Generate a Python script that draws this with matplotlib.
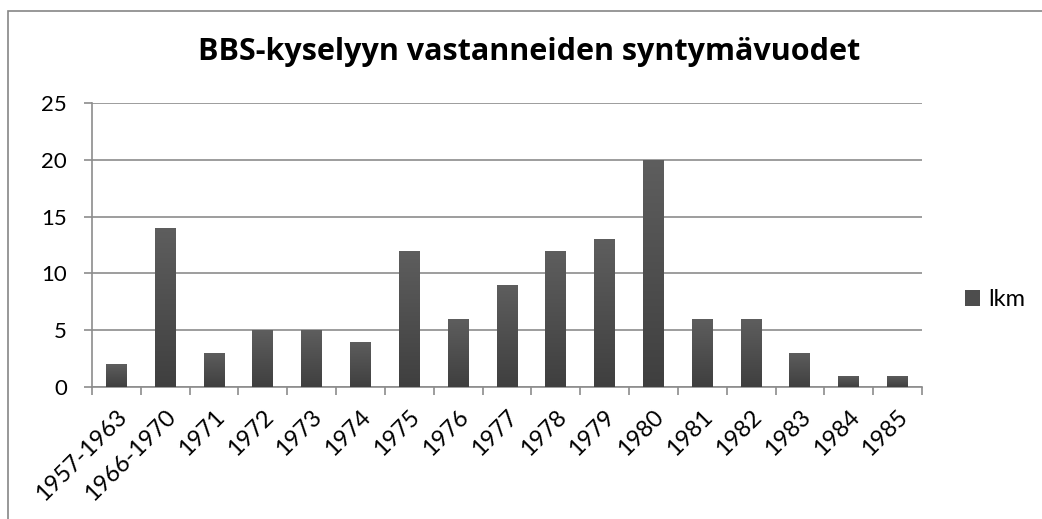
import numpy as np
import matplotlib
matplotlib.use('Agg')
from matplotlib import pyplot as plt
from matplotlib.patches import Rectangle
from matplotlib.transforms import ScaledTranslation

categories = ['1957-1963', '1966-1970', '1971', '1972', '1973', '1974', '1975', '1976',
              '1977', '1978', '1979', '1980', '1981', '1982', '1983', '1984', '1985']
lkm = [2, 14, 3, 5, 5, 4, 12, 6, 9, 12, 13, 20, 6, 6, 3, 1, 1]
yticks = [0, 5, 10, 15, 20, 25]

plt.rcParams['font.family'] = ['Lato', 'DejaVu Sans']

W, H = 1042, 519
fig = plt.figure(figsize=(W / 100, H / 100), dpi=100)
# kehys (oikea ja ala reuna jaavat kuvan ulkopuolelle)
fig.patches.append(Rectangle((7.5 / W, -0.1), 1.2, 1.1 - 10.5 / H, transform=fig.transFigure,
                             fill=False, edgecolor='#868686', linewidth=1.2))

ax = fig.add_axes([92 / W, 1 - 387 / H, (922 - 92) / W, (387 - 103) / H])
x = np.arange(len(categories))
bars = ax.bar(x, lkm, width=0.43, color='#4d4d4d', zorder=3, label='lkm')

# liukuvari pylvaisiin
grad = np.linspace(0, 1, 256).reshape(-1, 1)
cmap = matplotlib.colors.LinearSegmentedColormap.from_list('g', ['#3f3f3f', '#5e5e5e'])
for b in bars:
    x0, y0, w, h = b.get_x(), b.get_y(), b.get_width(), b.get_height()
    im = ax.imshow(grad, extent=(x0, x0 + w, y0, y0 + h), origin='lower', cmap=cmap,
                   aspect='auto', zorder=3.5)
    im.set_clip_path(b)

ax.set_xlim(-0.5, len(categories) - 0.5)
ax.set_ylim(0, 25)
ax.set_yticks(yticks)
ax.grid(axis='y', color='#8c8c8c', linewidth=1.2, zorder=0)
ax.set_axisbelow(True)

for s in ['top', 'right']:
    ax.spines[s].set_visible(False)
for s in ['left', 'bottom']:
    ax.spines[s].set_color('#8c8c8c')
    ax.spines[s].set_linewidth(1.2)

ax.tick_params(axis='y', length=6, width=1.2, color='#8c8c8c', labelsize=16, pad=12)
ax.set_xticks(x)
ax.set_xticklabels(categories, rotation=45, ha='right', va='center', rotation_mode='anchor', fontsize=17)
ax.tick_params(axis='x', length=0, pad=19)
shift = ScaledTranslation(7 / 100, 0, fig.dpi_scale_trans)
for lab in ax.get_xticklabels():
    lab.set_transform(lab.get_transform() + shift)
ax.set_xticks(np.arange(len(categories) + 1) - 0.5, minor=True)
ax.tick_params(axis='x', which='minor', length=6, width=1.2, color='#8c8c8c')

fig.text(529 / W, 1 - 52 / H, 'BBS-kyselyyn vastanneiden syntymävuodet', ha='center', va='center',
         fontsize=22, fontweight='bold', family=['Open Sans', 'DejaVu Sans'])

fig.legend(handles=[bars], labels=['lkm'], loc='center left', bbox_to_anchor=(965 / W, 1 - 300 / H),
           frameon=False, fontsize=17, handlelength=0.65, handleheight=0.65, handletextpad=0.35,
           borderpad=0, borderaxespad=0)

fig.savefig('out.png', dpi=100)
